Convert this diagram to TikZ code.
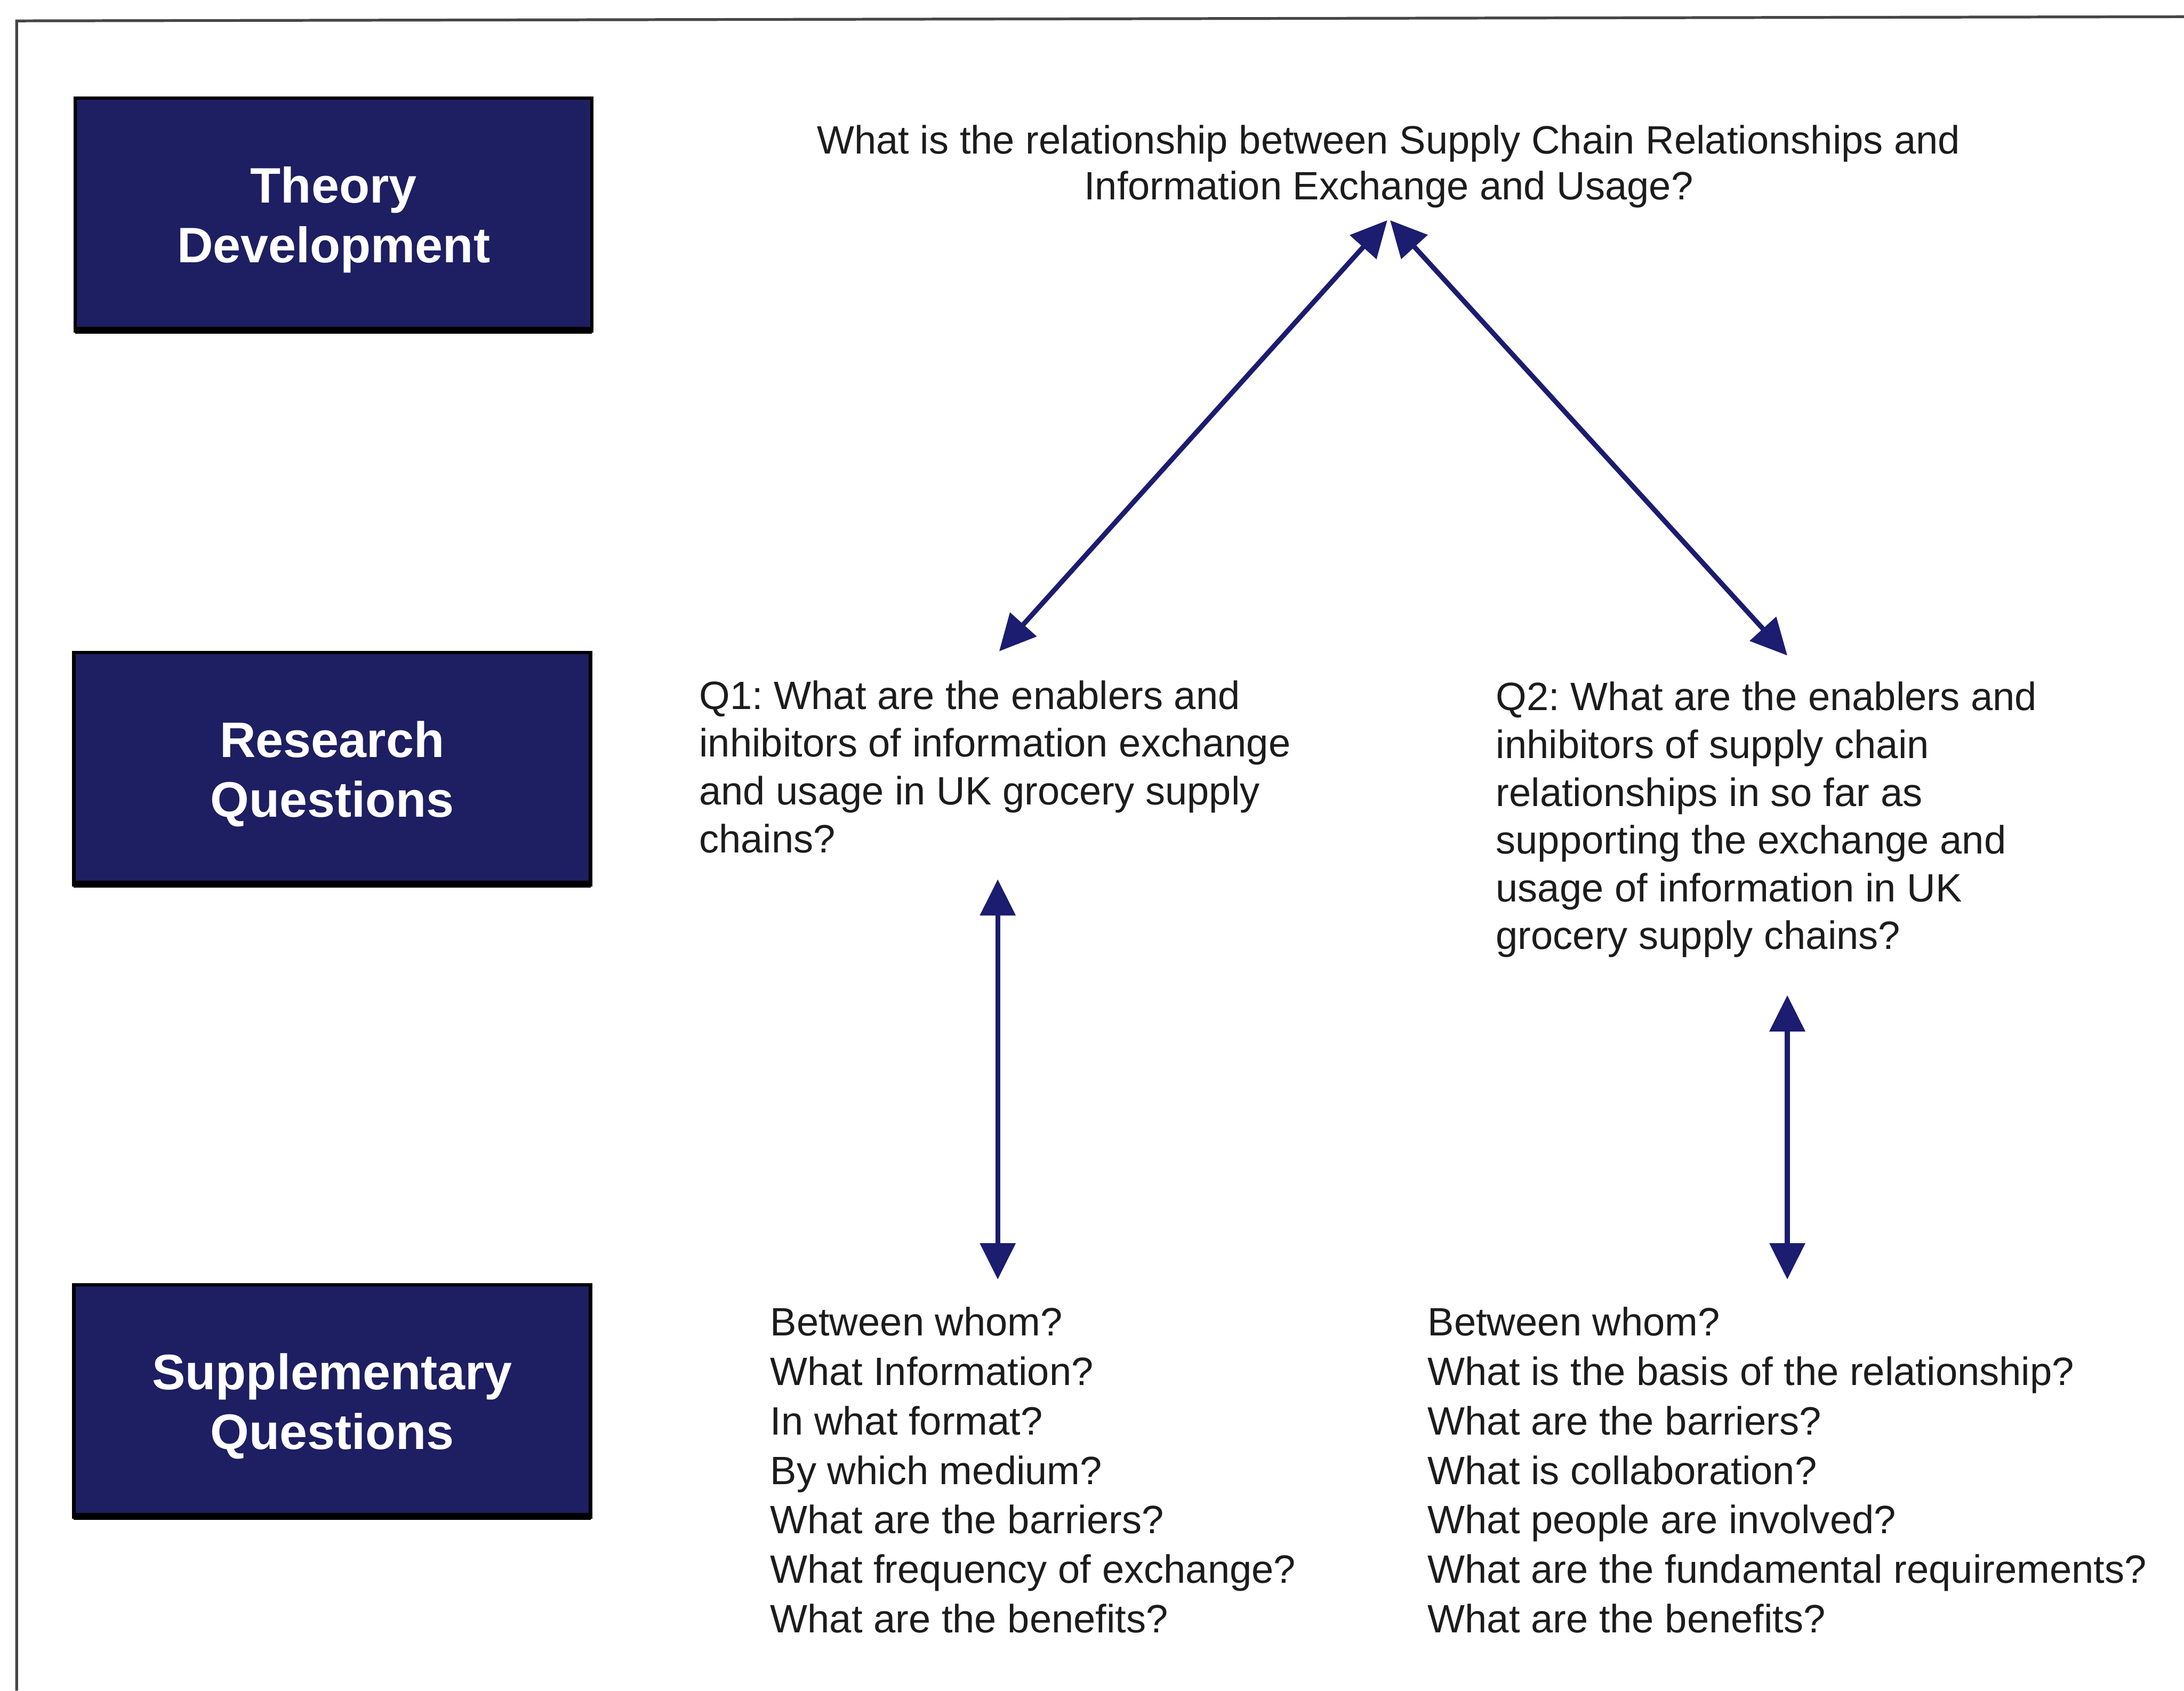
\documentclass[tikz,border=0pt]{standalone}
\usepackage{fontspec}
\setmainfont{Liberation Sans}
\usetikzlibrary{arrows.meta,calc}
\definecolor{navybox}{RGB}{30,30,98}
\definecolor{arrowblue}{RGB}{28,28,112}
\definecolor{inktext}{RGB}{28,28,28}
\definecolor{framegray}{RGB}{70,70,70}
\frenchspacing

\begin{document}
\begin{tikzpicture}[x=1pt,y=-1pt,
  levelbox/.style={draw=black, line width=2.5pt, fill=navybox, text=white,
    minimum width=371pt, minimum height=167pt, inner sep=0pt, outer sep=0pt,
    align=center, font=\fontsize{35.8}{43}\selectfont\bfseries},
  question/.style={inner sep=0pt, outer sep=0pt, anchor=north west, align=left,
    text=inktext, font=\fontsize{28.4}{34.3}\selectfont},
  sublist/.style={question, font=\fontsize{28.4}{35.5}\selectfont},
  link/.style={arrowblue, line width=3.5pt,
    {Triangle[length=26pt,width=25pt]}-{Triangle[length=26pt,width=25pt]}},
]
\useasboundingbox (0,0) rectangle (1568,1214);
\fill[white] (0,0) rectangle (1568,1214);

% outer frame (runs off the right and bottom edges)
\draw[framegray, line width=2pt] (12,1214) -- (12,15) -- (1568,12);

% level labels on the left; the tall strut sets the text a little low
\newcommand{\lowstrut}{\rule{0pt}{33.7pt}}
\node[levelbox] (theory)   at (239.5,154)  {\lowstrut Theory\\Development};
\node[levelbox] (research) at (238.5,552)  {\lowstrut Research\\Questions};
\node[levelbox] (supp)     at (238.5,1006) {\lowstrut Supplementary\\Questions};
\foreach \b in {theory,research,supp}
  \fill[black] ($(\b.south west)+(0,-3)$) rectangle ($(\b.south east)+(0,2)$);

% central question
\node[question, anchor=north, align=center, font=\fontsize{28.4}{33}\selectfont]
  (top) at (997,89.7)
  {What is the relationship between Supply Chain Relationships and\\
   Information Exchange and Usage?};

% research questions
\node[question] (q1) at (502,488.7)
  {Q1: What are the enablers and\\
   inhibitors of information exchange\\
   and usage in UK grocery supply\\
   chains?};
\node[question] (q2) at (1074,489.7)
  {Q2: What are the enablers and\\
   inhibitors of supply chain\\
   relationships in so far as\\
   supporting the exchange and\\
   usage of information in UK\\
   grocery supply chains?};

% supplementary questions
\node[sublist] (s1) at (553,938.7)
  {Between whom?\\
   What Information?\\
   In what format?\\
   By which medium?\\
   What are the barriers?\\
   What frequency of exchange?\\
   What are the benefits?};
\node[sublist] (s2) at (1025,938.7)
  {Between whom?\\
   What is the basis of the relationship?\\
   What are the barriers?\\
   What is collaboration?\\
   What people are involved?\\
   What are the fundamental requirements?\\
   What are the benefits?};

% connectors
\coordinate (apexL) at ($(top.south)+(-1,9)$);
\coordinate (apexR) at ($(top.south)+(1,9)$);
\coordinate (q1in)  at ($(q1.north)+(3,-21)$);
\coordinate (q2in)  at ($(q2.north)+(15,-19)$);
\draw[link] (apexL) -- (q1in);
\draw[link] (apexR) -- (q2in);

\coordinate (q1out) at ($(q1.south)+(2,19)$);
\coordinate (s1in)  at ($(q1out |- s1.north)+(0,-20)$);
\draw[link] (q1out) -- (s1in);

\coordinate (q2out) at ($(q2.south)+(15,27)$);
\coordinate (s2in)  at ($(q2out |- s2.north)+(0,-20)$);
\draw[link] (q2out) -- (s2in);
\end{tikzpicture}
\end{document}
